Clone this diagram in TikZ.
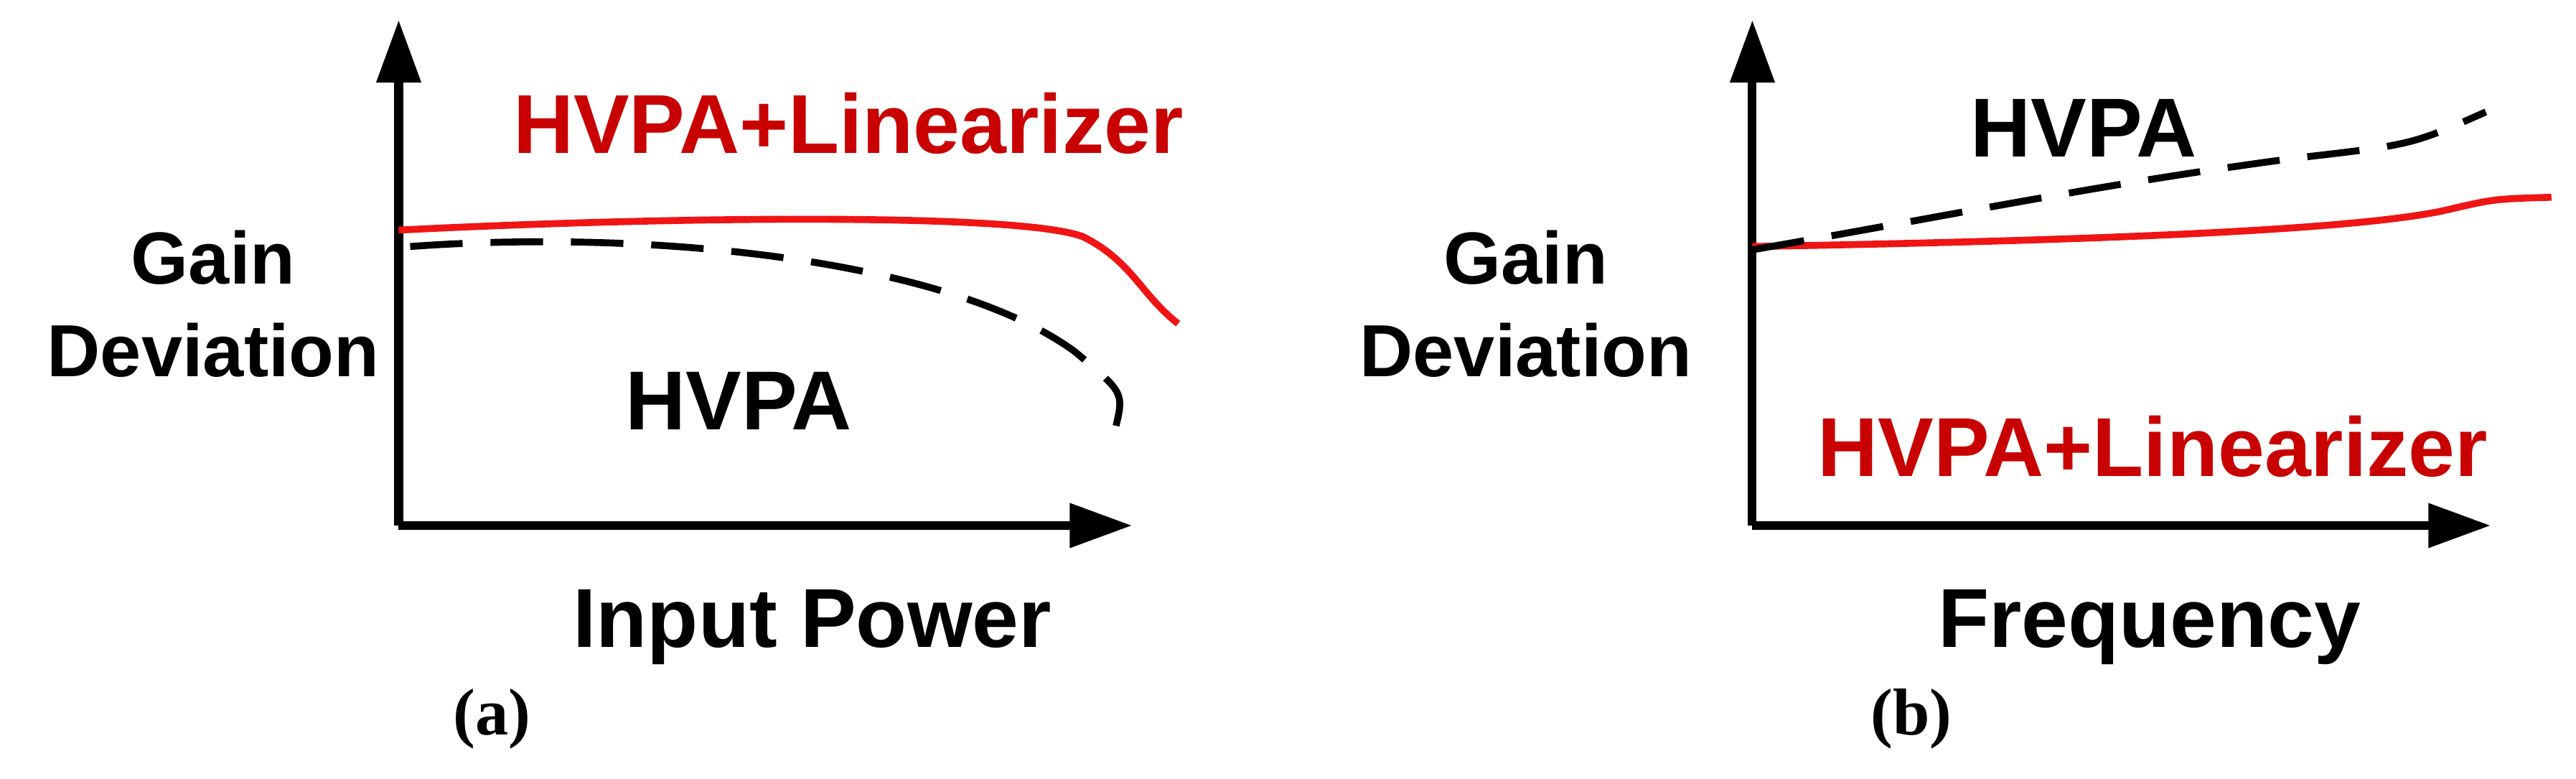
\documentclass[tikz,border=0pt]{standalone}
\usepackage{fontspec}
\setmainfont{Liberation Sans}
\newfontfamily\myserif{Liberation Serif}
\usetikzlibrary{arrows.meta}
\definecolor{myred}{RGB}{200,0,0}
\definecolor{linered}{RGB}{240,20,20}
\begin{document}
\begin{tikzpicture}[
  axis/.style={line width=1.5pt,-{Triangle[length=0.38cm,width=0.26cm]}},
  lbl/.style={font=\fontsize{14.5}{17}\selectfont\bfseries,align=center},
  glbl/.style={font=\fontsize{12.8}{16}\selectfont\bfseries,align=center},
  redc/.style={linered,line width=1.2pt},
  dashc/.style={black,line width=1.2pt,dash pattern=on 0.32cm off 0.17cm},
  subcap/.style={font=\fontsize{11.5}{14}\selectfont\myserif\bfseries}]
\useasboundingbox (0,0) rectangle (15.7,4.742);
% panel a
\coordinate (oa) at (2.43,1.54);
\coordinate (ya) at (2.43,4.62);
\coordinate (xa) at (6.9,1.54);
\draw[axis] (oa) -- (ya);
\draw[axis] (oa) -- (xa);
\draw[redc] (2.43,3.34) .. controls (4,3.42) and (6.2,3.45) .. (6.6,3.3) .. controls (6.9,3.15) and (6.95,2.95) .. (7.18,2.77);
\draw[dashc] (2.50,3.24) .. controls (4,3.35) and (5.8,3.15) .. (6.55,2.6) .. controls (6.85,2.35) .. (6.80,2.14);
\node[lbl,myred] (la) at (5.17,3.99) {HVPA+Linearizer};
\node[glbl] (ga) at (1.30,2.89) {Gain\\Deviation};
\node[lbl] (ha) at (4.5,2.30) {HVPA};
\node[lbl] (ia) at (4.95,0.92) {Input Power};
\node[subcap] (ca) at (3.0,0.36) {(a)};
% panel b
\coordinate (ob) at (10.68,1.54);
\coordinate (yb) at (10.68,4.62);
\coordinate (xb) at (15.18,1.54);
\draw[axis] (ob) -- (yb);
\draw[axis] (ob) -- (xb);
\draw[redc] (10.68,3.24) .. controls (13,3.28) and (14.4,3.35) .. (14.9,3.46) .. controls (15.2,3.53) .. (15.55,3.54);
\draw[dashc] (10.68,3.22) .. controls (12,3.45) and (12.8,3.62) .. (14,3.78) .. controls (14.7,3.86) .. (15.15,4.06);
\node[lbl] (hb) at (12.7,3.96) {HVPA};
\node[lbl,myred] (lb) at (13.12,2.02) {HVPA+Linearizer};
\node[glbl] (gb) at (9.3,2.89) {Gain\\Deviation};
\node[lbl] (fb) at (13.1,0.92) {Frequency};
\node[subcap] (cb) at (11.65,0.36) {(b)};
\end{tikzpicture}
\end{document}
